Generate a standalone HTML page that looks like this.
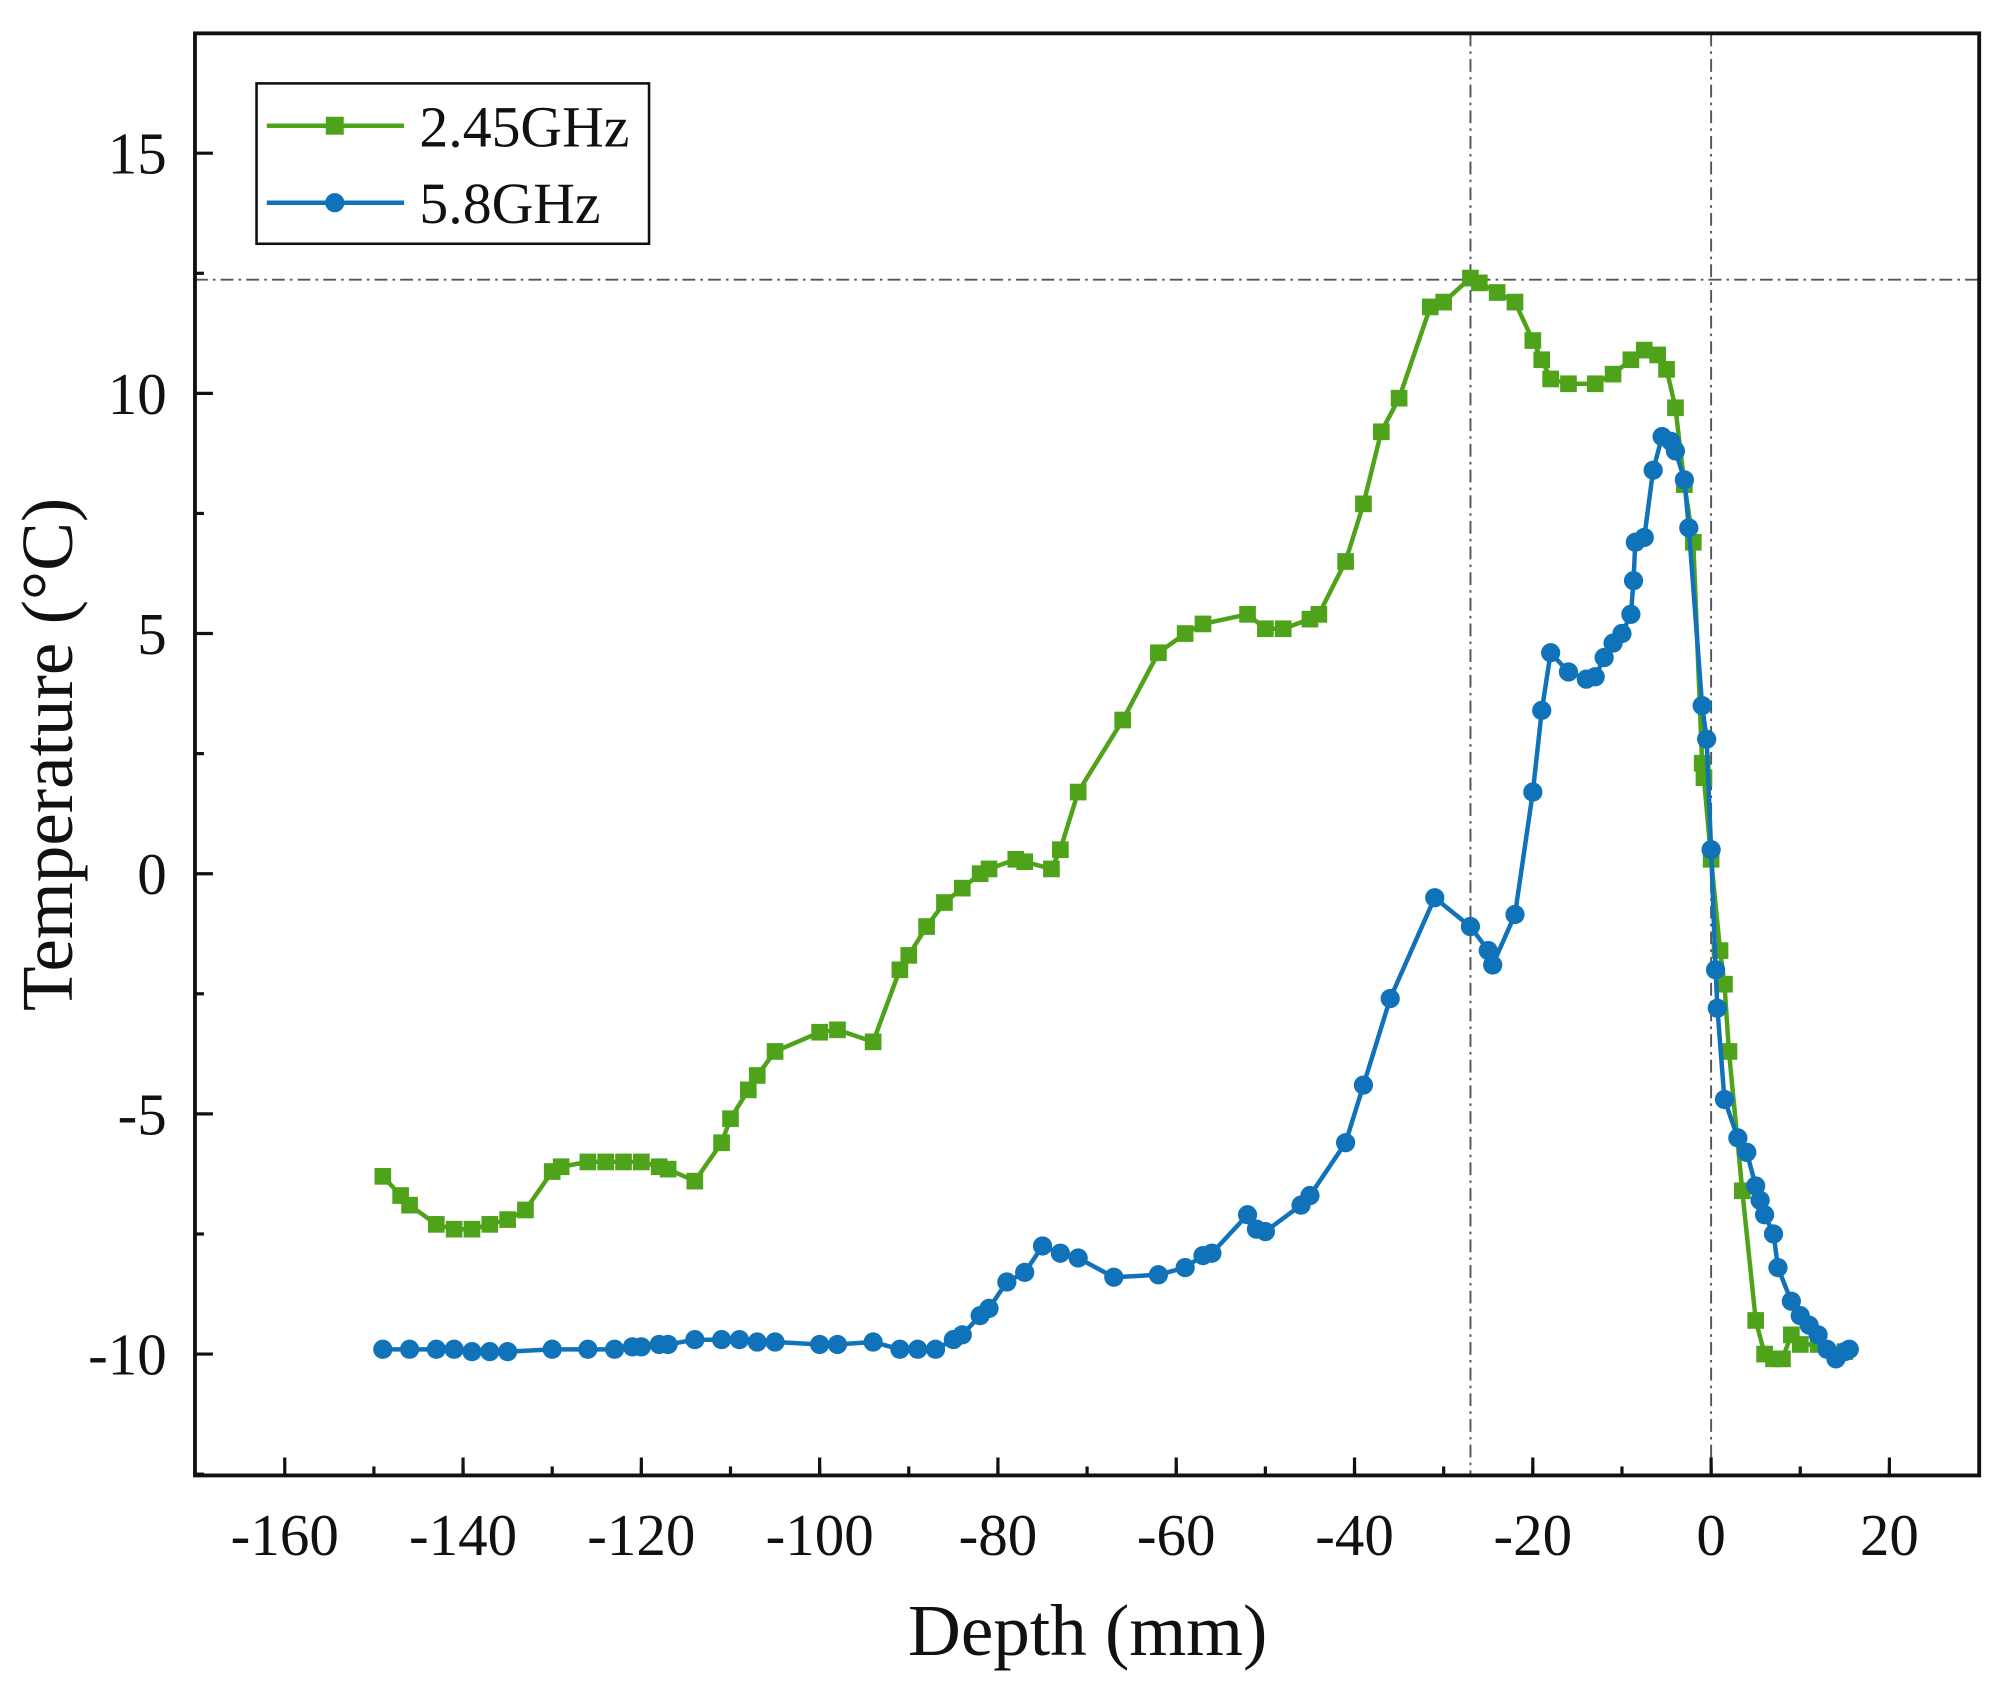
<!DOCTYPE html>
<html><head><meta charset="utf-8"><style>html,body{margin:0;padding:0;background:#fff}svg{display:block}</style></head>
<body>
<svg id="s" width="2001" height="1682" viewBox="0 0 1560 1311" preserveAspectRatio="none" xmlns="http://www.w3.org/2000/svg" font-family="Liberation Serif, serif">
<rect x="0" y="0" width="1560" height="1311" fill="#fff"/>
<g id="grid" stroke="#555" stroke-width="1.5" stroke-dasharray="10,4,2,4" fill="none">
<line x1="1146.4" y1="26" x2="1146.4" y2="1150"/>
<line x1="1334" y1="26" x2="1334" y2="1150"/>
<line x1="152" y1="218" x2="1543" y2="218"/>
</g>
<g id="series"></g>
<rect x="152" y="26" width="1391" height="1124" fill="none" stroke="#111" stroke-width="3"/>
<g id="ticks" stroke="#111" stroke-width="2.5"></g>
<g id="labels" font-size="46" fill="#111"></g>
<text x="848" y="1290" font-size="57" text-anchor="middle" fill="#111">Depth (mm)</text>
<text transform="translate(56,588) rotate(-90)" font-size="57" text-anchor="middle" fill="#111">Temperature (°C)</text>
<rect x="200" y="65" width="306" height="125" fill="#fff" stroke="#111" stroke-width="2"/>
<line x1="208" y1="98" x2="315" y2="98" stroke="#4fa31a" stroke-width="3.5"/>
<rect x="254" y="91" width="14" height="14" fill="#4fa31a"/>
<text x="327" y="114" font-size="45" fill="#111">2.45GHz</text>
<line x1="208" y1="158" x2="315" y2="158" stroke="#1072b8" stroke-width="3.5"/>
<circle cx="261" cy="158" r="7.5" fill="#1072b8"/>
<text x="327" y="174" font-size="45" fill="#111">5.8GHz</text>
</svg>
<script>
var X=function(v){return 1334+v*6.95},Y=function(v){return 681-v*37.44};
var ns="http://www.w3.org/2000/svg";
function el(p,t,a){var e=document.createElementNS(ns,t);for(var k in a)e.setAttribute(k,a[k]);p.appendChild(e);return e}
var tk=document.getElementById('ticks'),lb=document.getElementById('labels');
for(var v=-160;v<=20;v+=20){el(tk,'line',{x1:X(v),y1:1150,x2:X(v),y2:1136});var t=el(lb,'text',{x:X(v),y:1212,'text-anchor':'middle'});t.textContent=v;}
for(var v=-150;v<=20;v+=10){el(tk,'line',{x1:X(v),y1:1150,x2:X(v),y2:1143});}
for(var v=-10;v<=15;v+=5){el(tk,'line',{x1:152,y1:Y(v),x2:166,y2:Y(v)});var t=el(lb,'text',{x:130,y:Y(v)+16,'text-anchor':'end'});t.textContent=v;}
for(var v=-12.5;v<=17.5;v+=5){el(tk,'line',{x1:152,y1:Y(v),x2:159,y2:Y(v)});}
var g=[-149,-6.3,-147,-6.7,-146,-6.9,-143,-7.3,-141,-7.4,-139,-7.4,-137,-7.3,-135,-7.2,-133,-7.0,-130,-6.2,-129,-6.1,-126,-6.0,-124,-6.0,-122,-6.0,-120,-6.0,-118,-6.1,-117,-6.15,-114,-6.4,-111,-5.6,-110,-5.1,-108,-4.5,-107,-4.2,-105,-3.7,-100,-3.3,-98,-3.25,-94,-3.5,-91,-2.0,-90,-1.7,-88,-1.1,-86,-0.6,-84,-0.3,-82,0.0,-81,0.1,-78,0.3,-77,0.25,-74,0.1,-73,0.5,-71,1.7,-66,3.2,-62,4.6,-59,5.0,-57,5.2,-52,5.4,-50,5.1,-48,5.1,-45,5.3,-44,5.4,-41,6.5,-39,7.7,-37,9.2,-35,9.9,-31.5,11.8,-30,11.9,-27,12.4,-26,12.3,-24,12.1,-22,11.9,-20,11.1,-19,10.7,-18,10.3,-16,10.2,-13,10.2,-11,10.4,-9,10.7,-7.5,10.9,-6,10.8,-5,10.5,-4,9.7,-3,8.1,-2,6.9,-1,2.3,-0.8,2.0,0,0.3,1,-1.6,1.5,-2.3,2,-3.7,3.5,-6.6,5,-9.3,6,-10.0,7,-10.1,8,-10.1,9,-9.6,10,-9.8,12,-9.8,15,-9.95];
var b=[-149,-9.9,-146,-9.9,-143,-9.9,-141,-9.9,-139,-9.95,-137,-9.95,-135,-9.95,-130,-9.9,-126,-9.9,-123,-9.9,-121,-9.85,-120,-9.85,-118,-9.8,-117,-9.8,-114,-9.7,-111,-9.7,-109,-9.7,-107,-9.75,-105,-9.75,-100,-9.8,-98,-9.8,-94,-9.75,-91,-9.9,-89,-9.9,-87,-9.9,-85,-9.7,-84,-9.6,-82,-9.2,-81,-9.05,-79,-8.5,-77,-8.3,-75,-7.75,-73,-7.9,-71,-8.0,-67,-8.4,-62,-8.35,-59,-8.2,-57,-7.95,-56,-7.9,-52,-7.1,-51,-7.4,-50,-7.45,-46,-6.9,-45,-6.7,-41,-5.6,-39,-4.4,-36,-2.6,-31,-0.5,-27,-1.1,-25,-1.6,-24.5,-1.9,-22,-0.85,-20,1.7,-19,3.4,-18,4.6,-16,4.2,-14,4.05,-13,4.1,-12,4.5,-11,4.8,-10,5.0,-9,5.4,-8.7,6.1,-8.5,6.9,-7.5,7.0,-6.5,8.4,-5.5,9.1,-4.5,9.0,-4,8.8,-3,8.2,-2.5,7.2,-1,3.5,-0.5,2.8,0,0.5,0.5,-2.0,0.7,-2.8,1.5,-4.7,3,-5.5,4,-5.8,5,-6.5,5.5,-6.8,6,-7.1,7,-7.5,7.5,-8.2,9,-8.9,10,-9.2,11,-9.4,12,-9.6,13,-9.9,14,-10.1,15,-9.95,15.5,-9.9];
var s=document.getElementById('series');
function draw(d,c,m){var p='';for(var i=0;i<d.length;i+=2)p+=(i?'L':'M')+X(d[i]).toFixed(1)+','+Y(d[i+1]).toFixed(1);
el(s,'path',{d:p,fill:'none',stroke:c,'stroke-width':3.5,'stroke-linejoin':'round'});
for(var i=0;i<d.length;i+=2){if(m)el(s,'rect',{x:X(d[i])-6.5,y:Y(d[i+1])-6.5,width:13,height:13,fill:c});else el(s,'circle',{cx:X(d[i]),cy:Y(d[i+1]),r:7.5,fill:c});}}
draw(g,'#4fa31a',1);draw(b,'#1072b8',0);
</script>
</body></html>
